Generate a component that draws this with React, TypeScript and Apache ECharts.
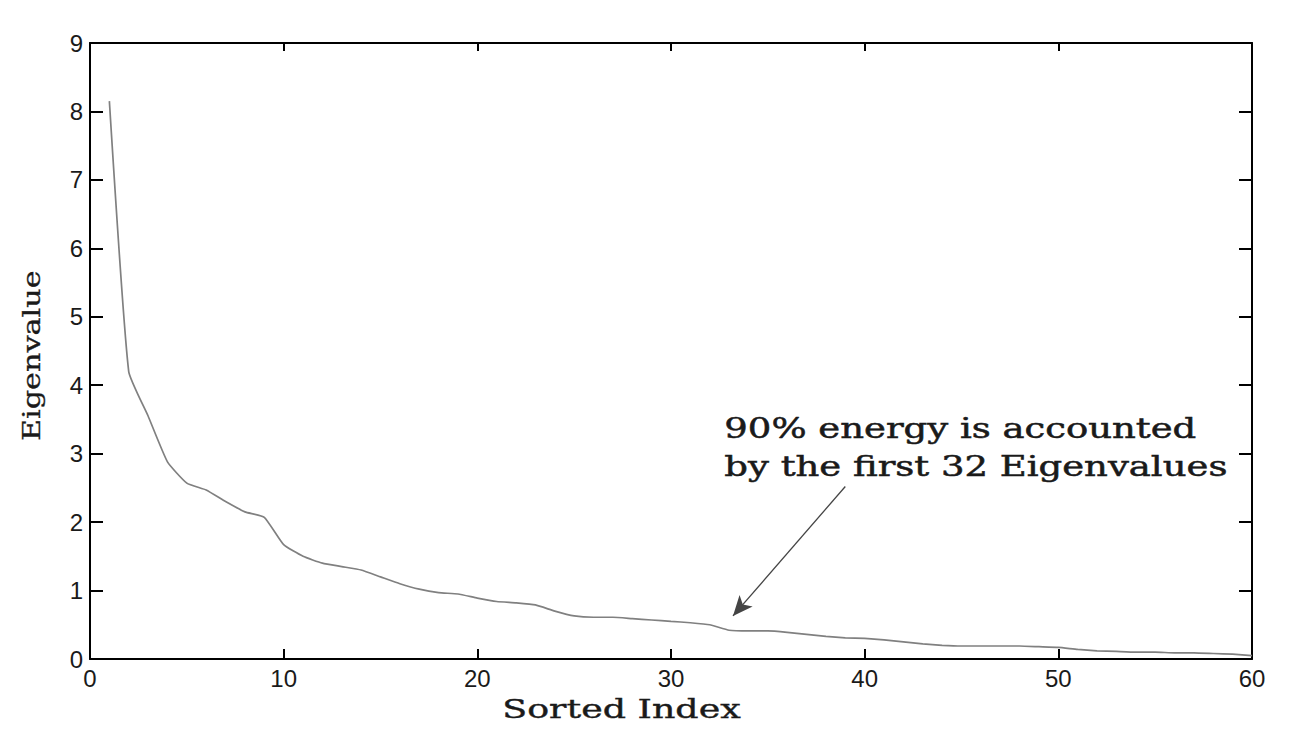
import React, { useEffect, useRef } from "react";
import * as echarts from "echarts";

const indices: number[] = Array.from({ length: 60 }, (_, i) => i + 1);
const eigenvalues: number[] = [
  8.15, 4.2, 3.55, 2.88, 2.57, 2.47, 2.3, 2.15, 2.07, 1.67,
  1.5, 1.4, 1.35, 1.3, 1.2, 1.1, 1.02, 0.97, 0.95, 0.89,
  0.84, 0.82, 0.79, 0.7, 0.63, 0.61, 0.61, 0.59, 0.57, 0.55,
  0.53, 0.5, 0.42, 0.41, 0.41, 0.39, 0.36, 0.33, 0.31, 0.3,
  0.28, 0.25, 0.22, 0.2, 0.19, 0.19, 0.19, 0.19, 0.18, 0.17,
  0.14, 0.12, 0.11, 0.1, 0.1, 0.09, 0.09, 0.08, 0.07, 0.05,
];
const xTicks = { min: 0, max: 60, interval: 10 };
const yTicks = { min: 0, max: 9, interval: 1 };
const annotationLines: string[] = [
  "90% energy is accounted",
  "by the first 32 Eigenvalues",
];
const arrowFrom: [number, number] = [39.0, 2.52];
const arrowTo: [number, number] = [33.2, 0.63];
const xName = "Sorted Index";
const yName = "Eigenvalue";

export default function App() {
  const ref = useRef<HTMLDivElement>(null);
  useEffect(() => {
    if (!ref.current) return;
    const chart = echarts.init(ref.current, null, { renderer: "svg" });
    const axisLine = { show: true, lineStyle: { color: "#000", width: 2 } };
    const labelStyle = {
      color: "#1a1a1a",
      fontFamily: "Liberation Sans",
      fontSize: 24,
    };
    const serif = "DejaVu Serif";
    chart.setOption({
      animation: false,
      backgroundColor: "#fff",
      grid: { left: 90, top: 43, right: 45, bottom: 70, containLabel: false },
      xAxis: [
        {
          type: "value",
          ...xTicks,
          axisLine: { ...axisLine, onZero: false },
          axisTick: { show: true, inside: true, length: 10, lineStyle: { color: "#000", width: 2 } },
          axisLabel: { ...labelStyle, margin: 7, showMaxLabel: true, showMinLabel: true },
          splitLine: { show: false },
        },
        {
          type: "value",
          position: "top",
          ...xTicks,
          axisLine: { ...axisLine, onZero: false },
          axisTick: { show: true, inside: true, length: 8, lineStyle: { color: "#000", width: 2 } },
          axisLabel: { show: false },
          splitLine: { show: false },
        },
      ],
      yAxis: [
        {
          type: "value",
          ...yTicks,
          axisLine: { ...axisLine, onZero: false },
          axisTick: { show: true, inside: true, length: 13, lineStyle: { color: "#000", width: 2 } },
          axisLabel: { ...labelStyle, margin: 7 },
          splitLine: { show: false },
        },
        {
          type: "value",
          position: "right",
          ...yTicks,
          axisLine: { ...axisLine, onZero: false },
          axisTick: { show: true, inside: true, length: 13, lineStyle: { color: "#000", width: 2 } },
          axisLabel: { show: false },
          splitLine: { show: false },
        },
      ],
      series: [
        {
          type: "line",
          xAxisIndex: 0,
          yAxisIndex: 0,
          data: indices.map((x, i) => [x, eigenvalues[i]]),
          showSymbol: false,
          symbol: "none",
          smooth: 0.15,
          lineStyle: { color: "#808080", width: 1.7 },
          markLine: {
            silent: true,
            symbol: ["none", "arrow"],
            symbolSize: [13, 20],
            label: { show: false },
            lineStyle: { color: "#444", width: 1.3, type: "solid" },
            itemStyle: { color: "#111" },
            data: [[{ coord: arrowFrom }, { coord: arrowTo }]],
          },
        },
      ],
      graphic: [
        {
          type: "text",
          left: 724,
          top: 410,
          scaleX: 1.37,
          style: {
            text: annotationLines.join("\n"),
            font: `27px "${serif}"`,
            fill: "#1a1a1a",
            stroke: "#1a1a1a",
            lineWidth: 0.5,
            lineHeight: 38,
          },
        },
        {
          type: "text",
          left: 502,
          top: 696,
          scaleX: 1.4,
          style: {
            text: xName,
            font: `26px "${serif}"`,
            fill: "#1a1a1a",
            stroke: "#1a1a1a",
            lineWidth: 0.4,
          },
        },
        {
          type: "text",
          x: 20,
          y: 441,
          rotation: Math.PI / 2,
          scaleX: 1.26,
          style: {
            text: yName,
            font: `24px "${serif}"`,
            fill: "#1a1a1a",
            stroke: "#1a1a1a",
            lineWidth: 0.3,
          },
        },
      ],
    });
    return () => chart.dispose();
  }, []);
  return (
    <div
      ref={ref}
      style={{ position: "fixed", left: 0, top: 0, width: 1297, height: 729, background: "#fff" }}
    />
  );
}
